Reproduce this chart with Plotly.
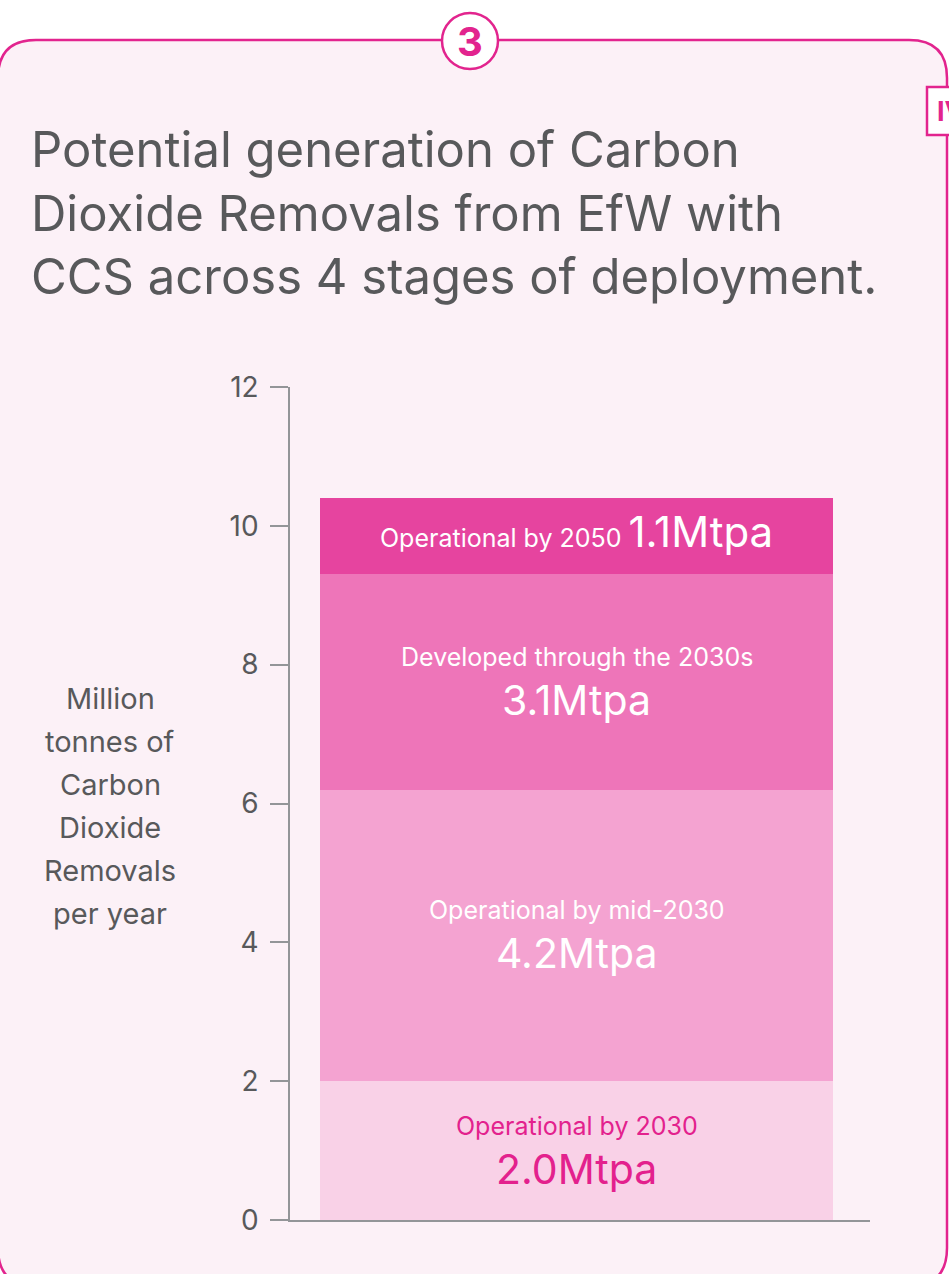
import plotly.graph_objects as go

# Deployment stages, stacked bottom to top (Mtpa)
stages = ["Operational by 2030", "Operational by mid-2030",
          "Developed through the 2030s", "Operational by 2050"]
values = [2.0, 4.2, 3.1, 1.1]
seg_colors = ["#F9D1E7", "#F4A3D1", "#EE75B9", "#E6449F"]
label_colors = ["#E3218D", "#FFFFFF", "#FFFFFF", "#FFFFFF"]
y_ticks = [0, 2, 4, 6, 8, 10, 12]
y_title_lines = ["Million", "tonnes of", "Carbon", "Dioxide", "Removals", "per year"]
title_text = ("Potential generation of Carbon<br>"
              "Dioxide Removals from EfW with<br>"
              "CCS across 4 stages of deployment.")

W, H = 949, 1274
ML, MR, MT, MB = 290, 79, 387, 54
PW, PH = W - ML - MR, H - MT - MB

FONT = "Inter"
GREY = "#58595B"
AXIS = "#939598"
PINK = "#E2248E"
BG = "#FCF1F7"


def px(x):
    return (x - ML) / PW


def py(y):
    return (H - MB - y) / PH


BAR_X = 0.494
BAR_W = 0.884

fig = go.Figure()
for name, v, c in zip(stages, values, seg_colors):
    fig.add_trace(go.Bar(
        x=[BAR_X], y=[v], width=BAR_W, name=name,
        marker=dict(color=c, line=dict(width=0)),
        hoverinfo="skip", showlegend=False,
    ))

annotations = []
base = 0.0
for i, (name, v, tc) in enumerate(zip(stages, values, label_colors)):
    mid = base + v / 2
    value_txt = f"{v:.1f}Mtpa"
    if i < len(stages) - 1:
        annotations.append(dict(x=BAR_X, y=mid, xref="x", yref="y", text=name,
                                showarrow=False, yshift=25,
                                font=dict(family=FONT, size=25, color=tc)))
        annotations.append(dict(x=BAR_X, y=mid, xref="x", yref="y", text=value_txt,
                                showarrow=False, yshift=-18,
                                font=dict(family=FONT, size=41, color=tc)))
    else:
        annotations.append(dict(x=BAR_X, y=mid, xref="x", yref="y",
                                text=f"{name} <span style='font-size:42px'>{value_txt}</span>",
                                showarrow=False, yshift=5,
                                font=dict(family=FONT, size=25, color=tc)))
    base += v

# Title
annotations.append(dict(x=px(29), y=py(213), xref="paper", yref="paper",
                        xanchor="left", yanchor="middle", align="left",
                        text=title_text, showarrow=False,
                        font=dict(family=FONT, size=49, color=GREY)))

# Y-axis title, one line per annotation
for k, line in enumerate(y_title_lines):
    annotations.append(dict(x=px(110), y=py(698 + 43 * k), xref="paper", yref="paper",
                            xanchor="center", yanchor="middle", text=line,
                            showarrow=False,
                            font=dict(family=FONT, size=29, color=GREY)))

# Panel number badge and side tab
annotations.append(dict(x=px(470), y=py(41), xref="paper", yref="paper",
                        xanchor="center", yanchor="middle", text="<b>3</b>",
                        showarrow=False,
                        font=dict(family=FONT, size=40, color=PINK)))
annotations.append(dict(x=px(935), y=py(111), xref="paper", yref="paper",
                        xanchor="left", yanchor="middle", text="<b>IV</b>",
                        showarrow=False,
                        font=dict(family=FONT, size=27, color=PINK)))

# Rounded panel outline
L, R, T, B, RAD = -2, 947, 40, 1286, 38
path = (f"M {px(L)},{py(T + RAD)} Q {px(L)},{py(T)} {px(L + RAD)},{py(T)} "
        f"L {px(R - RAD)},{py(T)} Q {px(R)},{py(T)} {px(R)},{py(T + RAD)} "
        f"L {px(R)},{py(B - RAD)} Q {px(R)},{py(B)} {px(R - RAD)},{py(B)} "
        f"L {px(L + RAD)},{py(B)} Q {px(L)},{py(B)} {px(L)},{py(B - RAD)} Z")
shapes = [
    dict(type="path", path=path, xref="paper", yref="paper", layer="below",
         fillcolor=BG, line=dict(color=PINK, width=2.5)),
    dict(type="circle", xref="paper", yref="paper", layer="above",
         x0=px(470 - 28), x1=px(470 + 28), y0=py(41 + 28), y1=py(41 - 28),
         fillcolor="white", line=dict(color=PINK, width=2.5)),
    dict(type="rect", xref="paper", yref="paper", layer="above",
         x0=px(927), x1=px(962), y0=py(135), y1=py(87),
         fillcolor="white", line=dict(color=PINK, width=2.5)),
]

fig.update_layout(
    width=W, height=H,
    margin=dict(l=ML, r=MR, t=MT, b=MB, pad=0),
    paper_bgcolor="white", plot_bgcolor="rgba(0,0,0,0)",
    barmode="stack", bargap=0,
    showlegend=False,
    font=dict(family=FONT, color=GREY),
    xaxis=dict(range=[0, 1], showline=True, linecolor=AXIS, linewidth=1.5,
               showticklabels=False, ticks="", showgrid=False, zeroline=False,
               fixedrange=True),
    yaxis=dict(range=[0, 12], tickvals=y_ticks, ticks="outside", ticklen=18,
               tickcolor=AXIS, tickwidth=1.5, showline=True, linecolor=AXIS,
               linewidth=1.5, showgrid=False, zeroline=False,
               tickfont=dict(family=FONT, size=28, color=GREY),
               ticklabelstandoff=6, fixedrange=True),
    annotations=annotations,
    shapes=shapes,
)

fig.write_html("out.html")
